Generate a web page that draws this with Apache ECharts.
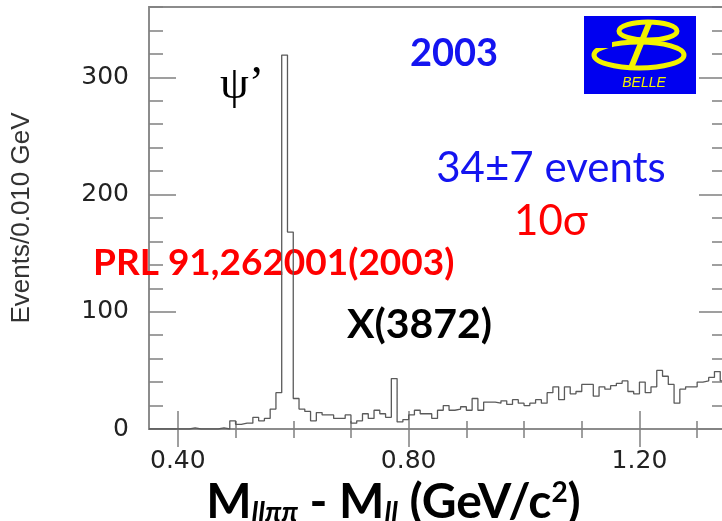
<!DOCTYPE html>
<html><head><meta charset="utf-8">
<script src="https://cdn.jsdelivr.net/npm/echarts@6/dist/echarts.min.js"></script>
<style>html,body{margin:0;padding:0;background:#fff;} #c{width:722px;height:521px;}</style>
</head><body><div id="c"></div>
<script>
// ---- data ----
const binStart = 0.35;
const binWidth = 0.01;
const counts = [
  0,0,0,0,0,0,0,1,0,0,
  0,0,1,0,7,4,5,5,10,7,
  9,17,31,319,168,26,17,15,7,14,
  12,12,9,9,12,5,7,13,9,16,
  13,10,43,6,8,12,16,13,13,9,
  16,20,16,17,19,16,26,16,23,23,
  22,24,21,25,22,20,22,25,22,31,
  36,25,36,30,32,38,38,28,36,34,
  37,39,41,32,30,40,31,36,50,45,
  38,22,34,36,36,40,41,44,49,41
];
const xMajorTicks = [0.40, 0.80, 1.20];
const xMinorTicks = [0.40, 0.50, 0.60, 0.70, 0.80, 0.90, 1.00, 1.10, 1.20, 1.30];
const yMajorTicks = [0, 100, 200, 300];
const yMinorTicks = [0, 20, 40, 60, 80, 100, 120, 140, 160, 180, 200, 220, 240, 260, 280, 300, 320, 340, 360];
const xRange = [0.35, 1.35];
const yRange = [0, 360];
const yTitle = 'Events/0.010 GeV';

// ---- build ----
const histData = counts.map((v, k) => [+(binStart + k * binWidth).toFixed(2), v]);
histData.push([+(binStart + counts.length * binWidth).toFixed(2), counts[counts.length - 1]]);

const tickColor = '#808080';
const labelFont = { fontFamily: '"DejaVu Sans", sans-serif', fontSize: 25, color: '#222' };
const calibri = 'Lato, "Liberation Sans", sans-serif';

function xAx(pos, vals, len, extra) {
  return Object.assign({
    type: 'value', position: pos, min: xRange[0], max: xRange[1],
    axisLine: { show: false },
    axisTick: { show: true, inside: true, length: len, customValues: vals, lineStyle: { color: tickColor, width: 1.5 } },
    axisLabel: { show: false },
    splitLine: { show: false }
  }, extra || {});
}
function yAx(pos, vals, len, extra) {
  return Object.assign({
    type: 'value', position: pos, min: yRange[0], max: yRange[1],
    axisLine: { show: false },
    axisTick: { show: true, inside: true, length: len, customValues: vals, lineStyle: { color: tickColor, width: 1.5 } },
    axisLabel: { show: false },
    splitLine: { show: false }
  }, extra || {});
}

const chart = echarts.init(document.getElementById('c'), null, { renderer: 'canvas' });
chart.setOption({
  animation: false,
  backgroundColor: '#fff',
  grid: { left: 149, right: -4, top: 7, bottom: 92, containLabel: false, outerBoundsMode: 'none',
          show: true, borderColor: '#8c8c8c', borderWidth: 2, backgroundColor: 'transparent' },
  xAxis: [
    xAx('bottom', xMajorTicks, 18, {
      axisLabel: Object.assign({ show: true, customValues: xMajorTicks, margin: 20, formatter: v => v.toFixed(2) }, labelFont),
      name: '{b|M}{sub|llππ}{b| - M}{sub|ll}{b| (GeV/c}{sup|2}{b|)}',
      nameLocation: 'middle', nameGap: 37,
      nameTextStyle: {
        padding: [0, 88, 0, 0],
        rich: {
          b: { fontFamily: calibri, fontWeight: 'bold', fontSize: 48, color: '#000', lineHeight: 48, verticalAlign: 'top', padding: [0, 0, 16, 0] },
          sub: { fontFamily: calibri, fontWeight: 'bold', fontStyle: 'italic', fontSize: 28, color: '#000', lineHeight: 28, verticalAlign: 'bottom' },
          sup: { fontFamily: calibri, fontWeight: 'bold', fontSize: 28, color: '#000', lineHeight: 28, verticalAlign: 'top' }
        }
      }
    }),
    xAx('bottom', xMinorTicks, 8),
    xAx('top', xMajorTicks, 18),
    xAx('top', xMinorTicks, 9)
  ],
  yAxis: [
    yAx('left', yMajorTicks, 27, {
      axisLabel: Object.assign({ show: true, customValues: yMajorTicks, margin: 20 }, labelFont),
      name: yTitle, nameLocation: 'middle', nameRotate: 90, nameGap: 114,
      nameTextStyle: { fontFamily: '"Liberation Sans", sans-serif', fontSize: 26, color: '#333' }
    }),
    yAx('left', yMinorTicks, 14),
    yAx('right', yMajorTicks, 27),
    yAx('right', yMinorTicks, 14)
  ],
  series: [{
    type: 'line', step: 'end', data: histData, xAxisIndex: 0, yAxisIndex: 0,
    symbol: 'none', lineStyle: { color: '#5a5a5a', width: 1.3 }, z: 3
  }],
  graphic: [
    { type: 'text', x: 220, y: 86, style: { text: 'ψ’', font: 'normal 46px "Liberation Serif", serif', fill: '#000', align: 'left', verticalAlign: 'middle' } },
    { type: 'text', x: 454, y: 54, style: { text: '2003', font: 'bold 38px ' + calibri, fill: '#1414f0', align: 'center', verticalAlign: 'middle' } },
    { type: 'text', x: 551, y: 168, style: { text: '34±7 events', font: 'normal 42px ' + calibri, fill: '#1414f0', align: 'center', verticalAlign: 'middle' } },
    { type: 'text', x: 551, y: 221, style: { text: '10σ', font: 'normal 42px ' + calibri, fill: '#ff0000', align: 'center', verticalAlign: 'middle' } },
    { type: 'text', x: 93, y: 263, style: { text: 'PRL 91,262001(2003)', font: 'bold 37px ' + calibri, fill: '#ff0000', align: 'left', verticalAlign: 'middle' } },
    { type: 'text', x: 347, y: 325, style: { text: 'X(3872)', font: 'bold 41px ' + calibri, fill: '#000', align: 'left', verticalAlign: 'middle' } },
    // Belle logo
    { type: 'rect', shape: { x: 584, y: 16, width: 112, height: 78 }, style: { fill: '#0000f0' }, z: 10 },
    { type: 'ellipse', shape: { cx: 639, cy: 55, rx: 45, ry: 13 }, style: { fill: 'none', stroke: '#f2f200', lineWidth: 5 }, z: 11 },
    { type: 'ellipse', shape: { cx: 648, cy: 31, rx: 29, ry: 9 }, style: { fill: 'none', stroke: '#f2f200', lineWidth: 5 }, z: 11 },
    { type: 'line', shape: { x1: 650, y1: 21, x2: 631, y2: 68 }, style: { stroke: '#f2f200', lineWidth: 6 }, z: 12 },
    { type: 'rect', shape: { x: 590, y: 38, width: 22, height: 10 }, style: { fill: '#0000f0' }, z: 12 },
    { type: 'text', x: 644, y: 83, style: { text: 'BELLE', font: 'italic 14px "Liberation Sans", sans-serif', fill: '#f2f200', align: 'center', verticalAlign: 'middle' }, z: 12 }
  ]
});
</script></body></html>
